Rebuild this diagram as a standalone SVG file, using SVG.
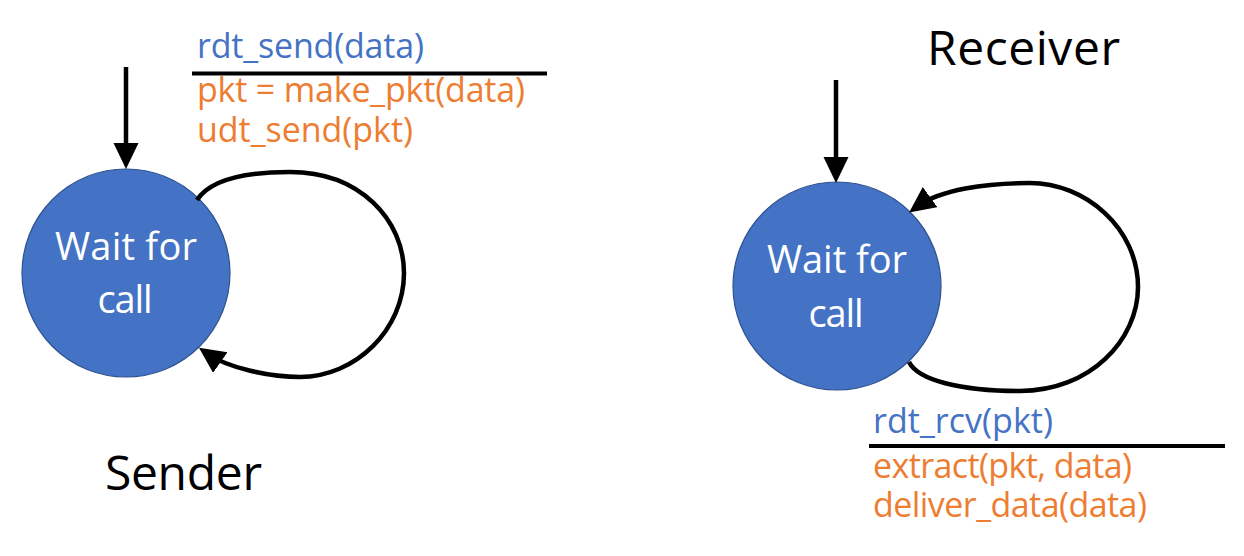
<svg xmlns="http://www.w3.org/2000/svg" width="1244" height="556" viewBox="0 0 1244 556">
<defs>
<style>
.t{font-family:"Open Sans","Liberation Sans",sans-serif;}
.lbl{font-size:34px;}
.blue{fill:#4472C4;}
.orange{fill:#ED7D31;}
.title{font-size:48px;fill:#000;}
.node{fill:#4472C4;stroke:#2F528F;stroke-width:1.2;}
.ntext{font-size:38px;fill:#fff;text-anchor:middle;}
.edge{fill:none;stroke:#000;stroke-width:4.5;}
.bar{stroke:#000;stroke-width:4;}
</style>
<marker id="ah" markerUnits="userSpaceOnUse" markerWidth="27" markerHeight="27" refX="15" refY="12.5" orient="auto" viewBox="0 0 27 27">
<path d="M0,0 L26,12.5 L0,25 Z" fill="#000"/>
</marker>
</defs>
<rect width="1244" height="556" fill="#fff"/>

<g id="sender-state">
<circle class="node" cx="126" cy="273" r="104"/>
<text class="t ntext" x="126" y="260" textLength="142">Wait for</text>
<text class="t ntext" x="125" y="313" textLength="55">call</text>
</g>

<g id="receiver-state">
<circle class="node" cx="837" cy="286" r="104"/>
<text class="t ntext" x="837" y="273" textLength="140">Wait for</text>
<text class="t ntext" x="836" y="327" textLength="55">call</text>
</g>

<g id="connectors">
<path class="edge" d="M126,67 L126,158" marker-end="url(#ah)"/>
<path class="edge" d="M836,80 L836,172" marker-end="url(#ah)"/>
<path class="edge" d="M197,200 C210,180 245,172 290,172 C360,172 404,220 404,273 C404,330 355,377 300,377 C270,377 228,368 208,354" marker-end="url(#ah)"/>
<path class="edge" d="M909,362 C918,380 960,391 1020,391 C1090,391 1138,340 1138,287 C1138,228 1085,183 1030,183 C985,183 940,190 918,206" marker-end="url(#ah)"/>
</g>

<g id="sender-label">
<text class="t lbl blue" x="197" y="58" textLength="227">rdt_send(data)</text>
<line class="bar" x1="192" y1="73.5" x2="547" y2="73.5"/>
<text class="t lbl orange" x="197" y="102" textLength="328">pkt = make_pkt(data)</text>
<text class="t lbl orange" x="197" y="142" textLength="216">udt_send(pkt)</text>
</g>

<g id="receiver-label">
<text class="t lbl blue" x="873" y="433" textLength="180">rdt_rcv(pkt)</text>
<line class="bar" x1="869" y1="446" x2="1225" y2="446"/>
<text class="t lbl orange" x="873" y="478" textLength="259">extract(pkt, data)</text>
<text class="t lbl orange" x="873" y="517" textLength="274">deliver_data(data)</text>
</g>

<g id="titles">
<text class="t title" x="105" y="490" textLength="157">Sender</text>
<text class="t title" x="927" y="65" textLength="193">Receiver</text>
</g>
</svg>
